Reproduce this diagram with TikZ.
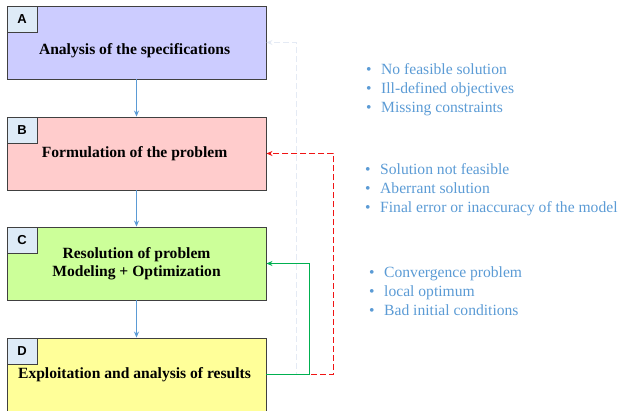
\documentclass[tikz,border=0pt]{standalone}
\usepackage{fontspec}
\setmainfont{Liberation Serif}
\setsansfont{Liberation Sans}
\usetikzlibrary{positioning,calc,arrows.meta,shadows}
\definecolor{boxA}{RGB}{204,204,255}
\definecolor{boxB}{RGB}{255,204,204}
\definecolor{boxC}{RGB}{204,255,153}
\definecolor{boxD}{RGB}{255,255,153}
\definecolor{tabfill}{RGB}{222,235,247}
\definecolor{note}{RGB}{91,155,213}
\definecolor{faint}{RGB}{228,234,244}
\definecolor{loopred}{RGB}{240,20,20}
\definecolor{loopgreen}{RGB}{0,176,80}
\tikzstyle{phase} = [ draw=black!75, line width=0.9pt, rectangle, minimum width=259pt, minimum height=73pt, inner sep=2pt, align=center, font=\fontsize{15.6}{18}\selectfont\bfseries, drop shadow={shadow xshift=1pt, shadow yshift=-1pt, opacity=0.35} ]
\tikzstyle{title} = [ align=center, inner sep=0pt, font=\fontsize{15.6}{18}\selectfont\bfseries ]
\tikzstyle{tab} = [ draw=black!75, line width=0.9pt, fill=tabfill, rectangle, minimum width=30pt, minimum height=26pt, inner sep=0pt, anchor=north west, font=\sffamily\bfseries\fontsize{13}{15}\selectfont ]
\tikzstyle{edge} = [->, >={Stealth[length=6pt,width=5pt]}, draw=note, line width=0.8pt]
\tikzstyle{fbline} = [edge, line width=1.2pt, dash pattern=on 6pt off 3pt]
\tikzstyle{notes} = [ anchor=west, align=left, text=note, inner sep=0pt, font=\fontsize{15.6}{19}\selectfont ]
\newcommand{\itm}{\makebox[15pt][l]{\textbullet}}

\begin{document}
\begin{tikzpicture}[x=1pt,y=-1pt]
	\useasboundingbox (0,0) rectangle (620,411);
	\node[phase, fill=boxA] (a) at ( 136.5, 42.5 ) {};
	\node[title] (at) at ( 136.5, 51 ) { Analysis of the specifications };
	\node[phase, fill=boxB] (b) at ( 136.5, 153.5 ) { Formulation of the problem };
	\node[phase, fill=boxC] (c) at ( 136.5, 263.5 ) { Resolution of problem\\Modeling + Optimization };
	\node[phase, fill=boxD] (d) at ( 136.5, 374.5 ) { Exploitation and analysis of results };

	\node[tab] (ta) at (a.north west) {A};
	\node[tab] (tb) at (b.north west) {B};
	\node[tab] (tc) at (c.north west) {C};
	\node[tab] (td) at (d.north west) {D};

	\draw[edge](a) -- (b);
	\draw[edge](b) -- (c);
	\draw[edge](c) -- (d);

	% feedback loops
	\draw[fbline, draw=faint](d.east) -- ++(30,0) |- (a.east);
	\draw[fbline, draw=loopred](d.east) -- ++(67,0) |- (b.east);
	\draw[edge, draw=loopgreen, line width=1.1pt](d.east) -- ++(43,0) |- (c.east);

	\node[notes] (l1) at ( 366, 90 ) { \itm No feasible solution\\ \itm Ill-defined objectives\\ \itm Missing constraints };
	\node[notes] (l2) at ( 365, 190 ) { \itm Solution not feasible\\ \itm Aberrant solution\\ \itm Final error or inaccuracy of the model };
	\node[notes] (l3) at ( 369, 291 ) { \itm Convergence problem\\ \itm local optimum\\ \itm Bad initial conditions };
\end{tikzpicture}
\end{document}
